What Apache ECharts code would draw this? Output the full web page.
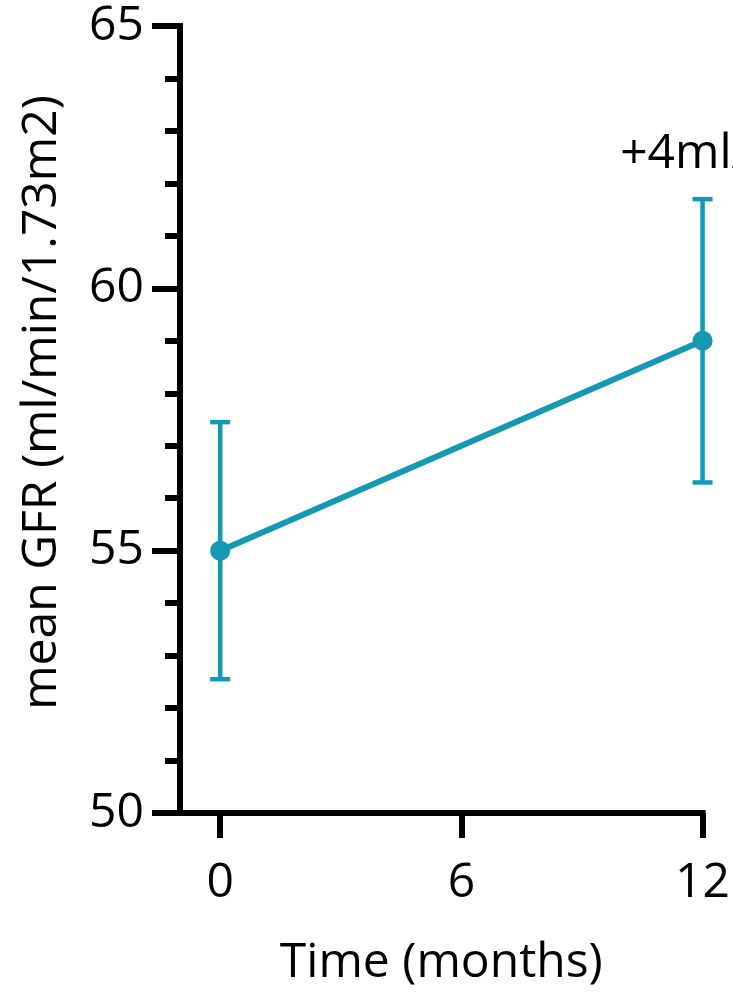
<!DOCTYPE html>
<html>
<head>
<meta charset="utf-8">
<script src="https://cdn.jsdelivr.net/npm/echarts@6/dist/echarts.min.js"></script>
<style>
html,body{margin:0;padding:0;background:#fff;}
#chart{width:733px;height:996px;}
</style>
</head>
<body>
<div id="chart"></div>
<script>
// Data
var months = [0, 12];
var meanGFR = [55, 59];
var lowerGFR = [52.55, 56.3];
var upperGFR = [57.45, 61.7];
var xTickValues = [0, 6, 12];
var annotationText = '+4ml/min/1.73m2';
var annotationPos = [9.95, 62.55];

var COLOR = '#1399b4';
var FONT = 'Open Sans';
var FS = 48;

var chart = echarts.init(document.getElementById('chart'), null, {renderer: 'canvas'});

var lineData = months.map(function (m, i) { return [m, meanGFR[i]]; });
var errData = months.map(function (m, i) { return [m, lowerGFR[i], upperGFR[i]]; });

var option = {
  backgroundColor: '#ffffff',
  animation: false,
  grid: {left: 180, right: 30, top: 26, bottom: 183, containLabel: false},
  xAxis: {
    type: 'value',
    min: -1,
    max: 12,
    name: 'Time (months)',
    nameLocation: 'middle',
    nameGap: 126,
    nameTextStyle: {fontFamily: FONT, fontSize: FS, color: '#000'},
    axisLine: {show: true, onZero: false, lineStyle: {color: '#000', width: 6, cap: 'square'}},
    axisTick: {show: true, customValues: xTickValues, length: 25, lineStyle: {color: '#000', width: 6}},
    axisLabel: {show: true, customValues: xTickValues, margin: 46, fontFamily: FONT, fontSize: FS, color: '#000'},
    splitLine: {show: false}
  },
  yAxis: {
    type: 'value',
    min: 50,
    max: 65,
    interval: 5,
    name: 'mean GFR (ml/min/1.73m2)',
    nameLocation: 'middle',
    nameGap: 114,
    nameTextStyle: {fontFamily: FONT, fontSize: FS, color: '#000', padding: [0, 0, 0, 34]},
    axisLine: {show: true, onZero: false, lineStyle: {color: '#000', width: 6, cap: 'square'}},
    axisTick: {show: true, length: 28, lineStyle: {color: '#000', width: 6}},
    minorTick: {show: true, splitNumber: 5, length: 15, lineStyle: {color: '#000', width: 6}},
    axisLabel: {margin: 36, fontFamily: FONT, fontSize: FS, color: '#000'},
    splitLine: {show: false}
  },
  series: [
    {
      type: 'custom',
      data: errData,
      z: 2,
      clip: false,
      renderItem: function (params, api) {
        var x = api.value(0);
        var lo = api.coord([x, api.value(1)]);
        var hi = api.coord([x, api.value(2)]);
        var hw = 10;
        var style = {stroke: COLOR, lineWidth: 4.5, fill: null};
        return {
          type: 'group',
          children: [
            {type: 'line', shape: {x1: lo[0], y1: lo[1], x2: hi[0], y2: hi[1]}, style: style},
            {type: 'line', shape: {x1: lo[0] - hw, y1: lo[1], x2: lo[0] + hw, y2: lo[1]}, style: style},
            {type: 'line', shape: {x1: hi[0] - hw, y1: hi[1], x2: hi[0] + hw, y2: hi[1]}, style: style}
          ]
        };
      }
    },
    {
      type: 'line',
      data: lineData,
      z: 3,
      symbol: 'circle',
      symbolSize: 20,
      showSymbol: true,
      lineStyle: {color: COLOR, width: 6},
      itemStyle: {color: COLOR},
      markPoint: {
        symbol: 'circle',
        symbolSize: 0,
        silent: true,
        label: {
          show: true,
          position: 'right',
          distance: 0,
          formatter: annotationText,
          fontFamily: FONT,
          fontSize: FS,
          color: '#000'
        },
        data: [{coord: annotationPos}]
      }
    }
  ]
};

chart.setOption(option);
</script>
</body>
</html>
